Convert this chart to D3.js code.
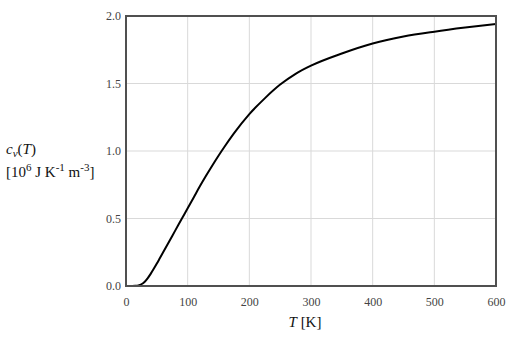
<!DOCTYPE html>
<html>
<head>
<meta charset="utf-8">
<script src="https://cdn.jsdelivr.net/npm/d3@7"></script>
<style>
  body { margin: 0; background: #fff; }
  text { font-family: "Liberation Serif", "Times New Roman", serif; }
</style>
</head>
<body>
<div id="chart"></div>
<script>
// temperature in K and heat capacity in 10^6 J K^-1 m^-3
const temps = [0, 10, 15, 20, 25, 30, 35, 40, 45, 50, 55, 60, 70, 80, 90, 100, 110, 120, 130, 140, 150, 160, 175, 200, 225, 250, 275, 300, 350, 400, 450, 500, 550, 600];
const cv    = [0, 0, 0.001, 0.004, 0.013, 0.03, 0.057, 0.09, 0.127, 0.166, 0.207, 0.248, 0.33, 0.412, 0.494, 0.576, 0.658, 0.74, 0.818, 0.893, 0.965, 1.033, 1.13, 1.273, 1.39, 1.492, 1.572, 1.632, 1.722, 1.796, 1.848, 1.884, 1.914, 1.94];
const xTicks = [0, 100, 200, 300, 400, 500, 600];
const yTicks = [0, 0.5, 1.0, 1.5, 2.0];

const margin = { top: 16, right: 16, bottom: 56, left: 126 };
const width = 512, height = 342;
const w = width - margin.left - margin.right;
const h = height - margin.top - margin.bottom;

const svg = d3.select("#chart").append("svg")
  .attr("width", width)
  .attr("height", height);

const g = svg.append("g")
  .attr("transform", `translate(${margin.left},${margin.top})`);

const x = d3.scaleLinear().domain([0, 600]).range([0, w]);
const y = d3.scaleLinear().domain([0, 2]).range([h, 0]);

// grid
g.selectAll(".gx").data(xTicks.slice(1, -1)).enter().append("line")
  .attr("x1", d => x(d)).attr("x2", d => x(d))
  .attr("y1", 0).attr("y2", h)
  .attr("stroke", "#d9d9d9").attr("stroke-width", 1);
g.selectAll(".gy").data(yTicks.slice(1, -1)).enter().append("line")
  .attr("y1", d => y(d)).attr("y2", d => y(d))
  .attr("x1", 0).attr("x2", w)
  .attr("stroke", "#d9d9d9").attr("stroke-width", 1);

// axes (labels only)
const xAxis = g.append("g")
  .attr("transform", `translate(0,${h})`)
  .call(d3.axisBottom(x).tickValues(xTicks).tickSize(0).tickPadding(11).tickFormat(d3.format("d")));
const yAxis = g.append("g")
  .call(d3.axisLeft(y).tickValues(yTicks).tickSize(0).tickPadding(5).tickFormat(d3.format(".1f")));
[xAxis, yAxis].forEach(a => {
  a.select(".domain").remove();
  a.attr("font-family", "Liberation Serif, serif")
    .attr("font-size", 12);
  a.selectAll("text").attr("fill", "#444");
});

// curve
const pts = temps.map((t, i) => [t, cv[i]]);
g.append("path")
  .datum(pts)
  .attr("fill", "none")
  .attr("stroke", "#000")
  .attr("stroke-width", 2)
  .attr("d", d3.line().x(d => x(d[0])).y(d => y(d[1])).curve(d3.curveMonotoneX));

// frame
g.append("rect")
  .attr("x", 0).attr("y", 0)
  .attr("width", w).attr("height", h)
  .attr("fill", "none")
  .attr("stroke", "#505050")
  .attr("stroke-width", 2);

// axis titles
const xl = svg.append("text")
  .attr("x", 305).attr("y", 327)
  .attr("text-anchor", "middle")
  .attr("font-size", 15)
  .attr("fill", "#111");
xl.append("tspan").attr("font-style", "italic").text("T");
xl.append("tspan").text(" [K]");

const yl1 = svg.append("text")
  .attr("x", 6).attr("y", 154)
  .attr("font-size", 15)
  .attr("fill", "#111");
yl1.append("tspan").attr("font-style", "italic").text("c");
yl1.append("tspan").attr("font-style", "italic").attr("font-size", 11).attr("dy", 3).text("v");
yl1.append("tspan").attr("dy", -3).text("(");
yl1.append("tspan").attr("font-style", "italic").text("T");
yl1.append("tspan").text(")");

const yl2 = svg.append("text")
  .attr("x", 6).attr("y", 177)
  .attr("font-size", 15)
  .attr("fill", "#111");
yl2.append("tspan").text("[10");
yl2.append("tspan").attr("font-size", 11).attr("dy", -6).text("6");
yl2.append("tspan").attr("dy", 6).text(" J K");
yl2.append("tspan").attr("font-size", 11).attr("dy", -6).text("-1");
yl2.append("tspan").attr("dy", 6).text(" m");
yl2.append("tspan").attr("font-size", 11).attr("dy", -6).text("-3");
yl2.append("tspan").attr("dy", 6).text("]");
</script>
</body>
</html>
